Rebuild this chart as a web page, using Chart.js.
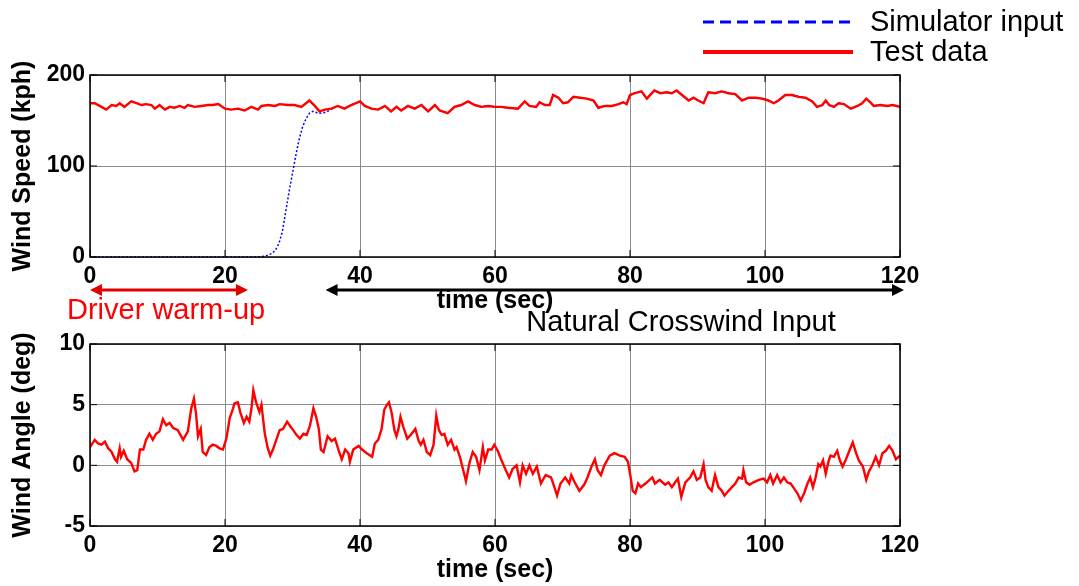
<!DOCTYPE html>
<html>
<head>
<meta charset="utf-8">
<script src="https://cdn.jsdelivr.net/npm/chart.js@4"></script>
<style>
  html, body { margin: 0; padding: 0; background: #fff; }
  #wrap { position: relative; width: 1079px; height: 586px; overflow: hidden; }
  #speedChart { position: absolute; left: 0; top: 0; }
  #angleChart { position: absolute; left: 0; top: 300px; }
</style>
</head>
<body>
<div id="wrap">
  <canvas id="speedChart" width="1079" height="340"></canvas>
  <canvas id="angleChart" width="1079" height="286"></canvas>
</div>
<script>
// ---- data ----
var speedTime = [0, 0.7, 1.7, 2.4, 3.2, 3.9, 4.4, 5.1, 6.1, 6.9, 7.6, 8.3, 9.1, 9.6, 10.3, 11.1, 11.8, 12.5, 13.3, 14.0,
  14.5, 15.5, 16.5, 17.5, 18.2, 19.0, 20.0, 20.9, 21.9, 22.9, 23.9, 24.9, 25.4, 26.4, 27.4, 28.1, 29.3, 30.3, 31.3, 32.0,
  32.5, 33.3, 34.0, 34.8, 35.8, 36.7, 37.7, 38.7, 40.0, 40.7, 41.7, 42.7, 43.7, 44.6, 45.4, 46.1, 47.1, 48.1, 49.1, 50.1,
  51.1, 51.8, 53.0, 54.0, 55.0, 56.0, 57.0, 58.0, 59.0, 60.0, 60.9, 61.9, 63.4, 64.4, 65.1, 66.1, 66.6, 67.4, 68.1, 68.6,
  69.4, 70.1, 70.8, 71.6, 72.6, 73.6, 74.6, 75.3, 76.3, 77.3, 78.3, 79.0, 79.5, 80.0, 80.7, 81.7, 82.5, 83.6, 84.5, 85.4,
  86.2, 86.9, 87.7, 88.7, 89.4, 90.1, 90.9, 91.6, 92.6, 93.6, 94.6, 95.6, 96.6, 97.6, 98.6, 99.6, 100.5, 101.3, 102.0, 103.0,
  104.0, 105.0, 106.0, 107.0, 107.7, 108.5, 109.0, 109.5, 110.2, 110.9, 111.7, 112.7, 113.7, 114.4, 115.0, 115.6, 116.1, 117.1, 118.1, 118.9, 120.0];
var speedTest = [169, 169, 165, 162, 167, 166, 169, 165, 171, 169, 167, 168, 167, 163, 167, 162, 165, 164, 166, 164,
  167, 165, 166, 167, 167, 168, 163, 162, 163, 161, 165, 162, 166, 167, 166, 168, 167, 167, 165, 169,
  172, 166, 160, 162, 163, 166, 163, 167, 171, 166, 163, 162, 166, 160, 165, 161, 166, 163, 167, 160,
  167, 161, 158, 165, 167, 171, 167, 165, 166, 165, 165, 164, 163, 171, 166, 165, 170, 167, 167, 178,
  175, 169, 170, 176, 175, 174, 172, 164, 166, 166, 168, 170, 168, 178, 180, 182, 174, 183, 180, 181,
  180, 183, 178, 172, 175, 172, 169, 181, 180, 182, 180, 179, 172, 175, 175, 174, 172, 169, 172, 178,
  178, 176, 175, 171, 165, 167, 172, 167, 165, 169, 168, 163, 166, 169, 174, 170, 166, 167, 166, 167, 165];

// simulator ramp up, after 35 s it follows the test data
var simTime = [0, 5, 10, 15, 20, 25, 26, 27, 27.5, 28, 28.5, 29, 29.5, 30, 30.5, 31, 31.5, 32, 32.5, 33, 34, 35];
var simSpeed = [0, 0, 0, 0, 0, 0, 1, 4, 8, 15, 28, 50, 72, 92, 112, 130, 143, 152, 158, 160, 158, 159];

var angleTime = [0.0, 0.7, 1.2, 1.7, 2.2, 2.7, 3.2, 3.7, 4.0, 4.4, 4.6, 5.0, 5.5, 6.1, 6.6, 7.0, 7.4, 7.9, 8.3, 8.8,
  9.3, 9.8, 10.3, 10.8, 11.3, 11.8, 12.3, 13.0, 13.8, 14.5, 15.0, 15.4, 15.7, 16.0, 16.4, 16.7, 17.2, 17.7, 18.2, 18.7,
  19.2, 19.7, 20.2, 20.7, 21.2, 21.4, 21.9, 22.3, 22.8, 23.2, 23.6, 23.9, 24.2, 24.6, 25.1, 25.4, 25.9, 26.3, 26.7, 27.1,
  27.6, 28.1, 28.6, 29.2, 29.7, 30.1, 30.6, 31.1, 31.6, 32.1, 32.6, 33.1, 33.5, 33.9, 34.2, 34.6, 35.2, 35.8, 36.3, 36.8,
  37.3, 37.8, 38.3, 38.5, 39.0, 39.8, 40.3, 41.0, 41.8, 42.2, 42.7, 43.2, 43.6, 44.0, 44.3, 44.7, 45.1, 45.4, 45.7, 46.0,
  46.4, 47.0, 47.5, 48.2, 48.7, 49.0, 49.4, 49.9, 50.4, 50.9, 51.3, 51.7, 52.1, 52.5, 53.0, 53.5, 54.0, 54.3, 54.8, 55.3,
  55.7, 56.2, 56.7, 57.2, 57.7, 58.2, 58.5, 59.0, 59.5, 59.9, 60.4, 60.9, 61.6, 62.1, 62.6, 63.2, 63.7, 64.1, 64.6, 65.1,
  65.6, 66.2, 66.8, 67.5, 68.3, 68.8, 69.2, 69.7, 70.4, 71.0, 71.3, 71.8, 72.5, 73.2, 73.7, 74.3, 74.8, 75.2, 75.7, 76.2,
  77.0, 77.7, 78.5, 79.2, 79.7, 80.1, 80.4, 80.8, 81.2, 81.6, 82.3, 82.9, 83.3, 83.7, 84.4, 85.2, 85.7, 86.2, 86.7, 87.1,
  87.6, 88.2, 88.9, 89.4, 89.9, 90.4, 90.9, 91.2, 91.6, 92.1, 92.6, 93.1, 93.6, 94.0, 94.6, 95.1, 95.6, 96.1, 96.6, 96.8,
  97.2, 97.7, 98.3, 99.1, 99.8, 100.3, 100.8, 101.2, 101.8, 102.3, 102.8, 103.3, 103.8, 104.3, 104.8, 105.3, 105.8, 106.3, 106.7, 107.1,
  107.5, 107.9, 108.2, 108.6, 109.0, 109.4, 109.7, 110.2, 110.7, 111.1, 111.5, 112.0, 112.5, 113.0, 113.5, 113.9, 114.5, 115.0, 115.4, 115.9,
  116.4, 116.9, 117.4, 117.9, 118.4, 118.9, 119.4, 120.0];
var angleDeg = [1.5, 2.1, 1.8, 1.7, 1.95, 1.4, 1.1, 0.5, 0.3, 1.4, 0.7, 1.2, 0.5, 0.2, -0.5, -0.4, 1.3, 1.3, 2.1, 2.6,
  2.1, 2.6, 2.8, 3.8, 3.3, 3.5, 3.1, 2.9, 2.1, 2.8, 4.7, 5.5, 4.3, 2.4, 3.0, 1.1, 0.85, 1.5, 1.7, 1.6,
  1.4, 1.3, 2.2, 3.9, 4.7, 5.1, 5.2, 4.3, 3.5, 4.0, 3.6, 4.6, 6.2, 5.2, 4.4, 5.0, 2.6, 1.5, 0.8, 1.3,
  2.1, 2.9, 3.0, 3.6, 3.2, 2.9, 2.5, 2.2, 2.6, 2.5, 3.3, 4.7, 4.0, 3.0, 1.3, 1.1, 2.4, 2.0, 2.2, 1.3,
  0.5, 1.3, 1.0, 0.3, 1.3, 1.6, 1.3, 1.0, 0.7, 1.8, 2.1, 3.0, 4.6, 5.0, 5.2, 4.3, 2.9, 2.4, 3.0, 4.0,
  3.2, 2.2, 2.5, 3.0, 2.0, 1.7, 2.1, 1.1, 0.85, 1.7, 4.1, 2.9, 2.5, 2.6, 1.7, 2.1, 1.3, 1.5, 0.7, -0.4,
  -1.3, 0.15, 1.1, 0.7, -0.4, 1.5, 0.4, 1.3, 1.3, 1.7, 1.2, 0.5, -0.4, -1.0, -0.3, 0.0, -1.4, 0.0, -0.7, 0.0,
  -0.7, -0.1, -1.5, -0.8, -1.0, -1.8, -2.5, -1.5, -1.0, -1.5, -0.8, -1.4, -2.1, -1.6, -1.0, -0.1, 0.5, -0.4, -0.8, 0.0,
  0.8, 1.0, 0.8, 0.7, 0.3, -1.0, -2.1, -2.3, -1.5, -1.8, -1.5, -1.2, -1.0, -1.5, -1.2, -1.6, -1.4, -1.8, -1.4, -1.1,
  -2.6, -1.4, -1.0, -0.5, -1.2, -1.0, 0.1, -1.2, -1.8, -2.1, -0.8, -1.8, -2.1, -2.5, -2.1, -1.8, -1.5, -1.0, -1.1, -0.4,
  -1.4, -1.6, -1.4, -1.2, -1.1, -1.4, -0.8, -1.5, -0.8, -1.4, -1.0, -1.4, -1.5, -1.9, -2.3, -2.9, -2.3, -1.5, -1.0, -1.8,
  -1.0, 0.1, -0.1, 0.4, -0.7, 0.3, 0.8, 0.7, 1.2, 0.4, -0.1, 0.5, 1.2, 1.9, 1.0, 0.4, -0.1, -1.2, -0.5, 0.0,
  0.7, 0.0, 1.0, 1.2, 1.6, 1.2, 0.5, 0.8];

var speedTicks = [0, 100, 200];
var angleTicks = [-5, 0, 5, 10];
var timeTicks = [0, 20, 40, 60, 80, 100, 120];

// annotation ranges (seconds)
var warmupRange = [0, 23.4];
var testRange = [34.9, 120];

var FONT = "'Liberation Sans', Arial, Helvetica, sans-serif";

function pts(xs, ys) {
  return xs.map(function (x, i) { return { x: x, y: ys[i] }; });
}

var simPoints = pts(simTime, simSpeed).concat(
  pts(speedTime, speedTest).filter(function (p) { return p.x > 35; })
);

// MATLAB-like box with inner tick marks
var boxPlugin = {
  id: 'box',
  afterDatasetsDraw: function (chart) {
    var a = chart.chartArea, ctx = chart.ctx;
    var xs = chart.scales.x, ys = chart.scales.y;
    ctx.save();
    ctx.strokeStyle = '#000';
    ctx.lineWidth = 1.5;
    ctx.strokeRect(a.left, a.top, a.right - a.left, a.bottom - a.top);
    ctx.lineWidth = 1;
    ctx.beginPath();
    xs.ticks.forEach(function (t) {
      var px = xs.getPixelForValue(t.value);
      ctx.moveTo(px, a.bottom); ctx.lineTo(px, a.bottom - 7);
      ctx.moveTo(px, a.top); ctx.lineTo(px, a.top + 7);
    });
    ys.ticks.forEach(function (t) {
      var py = ys.getPixelForValue(t.value);
      ctx.moveTo(a.left, py); ctx.lineTo(a.left + 7, py);
      ctx.moveTo(a.right, py); ctx.lineTo(a.right - 7, py);
    });
    ctx.stroke();
    ctx.restore();
  }
};

function arrow(ctx, x1, x2, y, color) {
  var h = 12, w = 6;
  ctx.strokeStyle = color;
  ctx.fillStyle = color;
  ctx.lineWidth = 3;
  ctx.beginPath();
  ctx.moveTo(x1 + h - 2, y); ctx.lineTo(x2 - h + 2, y);
  ctx.stroke();
  ctx.beginPath();
  ctx.moveTo(x1, y); ctx.lineTo(x1 + h, y - w); ctx.lineTo(x1 + h, y + w); ctx.closePath();
  ctx.fill();
  ctx.beginPath();
  ctx.moveTo(x2, y); ctx.lineTo(x2 - h, y - w); ctx.lineTo(x2 - h, y + w); ctx.closePath();
  ctx.fill();
}

var speedExtras = {
  id: 'speedExtras',
  afterDraw: function (chart) {
    var ctx = chart.ctx, xs = chart.scales.x;
    ctx.save();
    arrow(ctx, xs.getPixelForValue(warmupRange[0]), xs.getPixelForValue(warmupRange[1]), 290, '#e00000');
    arrow(ctx, xs.getPixelForValue(testRange[0]), xs.getPixelForValue(testRange[1]) + 4, 290, '#000');
    ctx.font = '29px ' + FONT;
    ctx.fillStyle = '#ff0000';
    ctx.textAlign = 'left';
    ctx.textBaseline = 'middle';
    ctx.fillText('Driver warm-up', 67, 311);

    // legend
    var ds = chart.data.datasets;
    var rows = [ds[1], ds[0]];
    rows.forEach(function (d, i) {
      var y = 22 + i * 30;
      ctx.beginPath();
      ctx.strokeStyle = d.borderColor;
      ctx.lineWidth = i === 0 ? 3 : 4;
      ctx.setLineDash(i === 0 ? [11, 6] : []);
      ctx.moveTo(703, y); ctx.lineTo(853, y);
      ctx.stroke();
      ctx.setLineDash([]);
      ctx.fillStyle = '#000';
      ctx.font = '29px ' + FONT;
      ctx.fillText(d.label, 870, y + 1);
    });
    ctx.restore();
  }
};

var angleExtras = {
  id: 'angleExtras',
  afterDraw: function (chart) {
    var ctx = chart.ctx;
    ctx.save();
    ctx.font = '29px ' + FONT;
    ctx.fillStyle = '#000';
    ctx.textAlign = 'center';
    ctx.textBaseline = 'middle';
    ctx.fillText('Natural Crosswind Input', 681, 23);
    ctx.restore();
  }
};

function axes(yMin, yMax, yTicks, yTitle) {
  var tickFont = { family: FONT, size: 23, weight: 'bold' };
  var titleFont = { family: FONT, size: 25, weight: 'bold' };
  return {
    x: {
      type: 'linear', min: 0, max: 120,
      afterBuildTicks: function (s) { s.ticks = timeTicks.map(function (v) { return { value: v }; }); },
      grid: { color: '#8c8c8c', lineWidth: 1, drawTicks: false },
      border: { display: false },
      ticks: { color: '#000', font: tickFont, padding: 6, maxRotation: 0 },
      title: { display: true, text: 'time (sec)', color: '#000', font: titleFont, padding: { top: 0, bottom: 0 } },
      afterFit: function (s) { s.height = 59; }
    },
    y: {
      type: 'linear', min: yMin, max: yMax,
      afterBuildTicks: function (s) { s.ticks = yTicks.map(function (v) { return { value: v }; }); },
      ticks: { color: '#000', font: tickFont, padding: 5 },
      grid: { color: '#8c8c8c', lineWidth: 1, drawTicks: false },
      border: { display: false },
      title: { display: true, text: yTitle, color: '#000', font: titleFont, padding: { top: 8, bottom: 0 } },
      afterFit: function (s) { s.width = 90; }
    }
  };
}

new Chart(document.getElementById('speedChart'), {
  type: 'line',
  data: {
    datasets: [{
      label: 'Test data',
      data: pts(speedTime, speedTest),
      borderColor: '#ff0000',
      borderWidth: 2.4,
      pointRadius: 0,
      tension: 0,
      order: 0
    }, {
      label: 'Simulator input',
      data: simPoints,
      borderColor: '#0000ff',
      borderWidth: 1.5,
      borderDash: [2, 2],
      pointRadius: 0,
      tension: 0,
      order: 1
    }]
  },
  options: {
    responsive: false,
    animation: false,
    devicePixelRatio: 1,
    layout: { padding: { top: 75, right: 179, bottom: 24, left: 0 } },
    plugins: { legend: { display: false }, tooltip: { enabled: false } },
    scales: axes(0, 200, speedTicks, 'Wind Speed (kph)')
  },
  plugins: [boxPlugin, speedExtras]
});

new Chart(document.getElementById('angleChart'), {
  type: 'line',
  data: {
    datasets: [{
      label: 'Wind angle',
      data: pts(angleTime, angleDeg),
      borderColor: '#ff0000',
      borderWidth: 2.4,
      pointRadius: 0,
      tension: 0
    }]
  },
  options: {
    responsive: false,
    animation: false,
    devicePixelRatio: 1,
    layout: { padding: { top: 44, right: 179, bottom: 1, left: 0 } },
    plugins: { legend: { display: false }, tooltip: { enabled: false } },
    scales: axes(-5, 10, angleTicks, 'Wind Angle (deg)')
  },
  plugins: [boxPlugin, angleExtras]
});
</script>
</body>
</html>
